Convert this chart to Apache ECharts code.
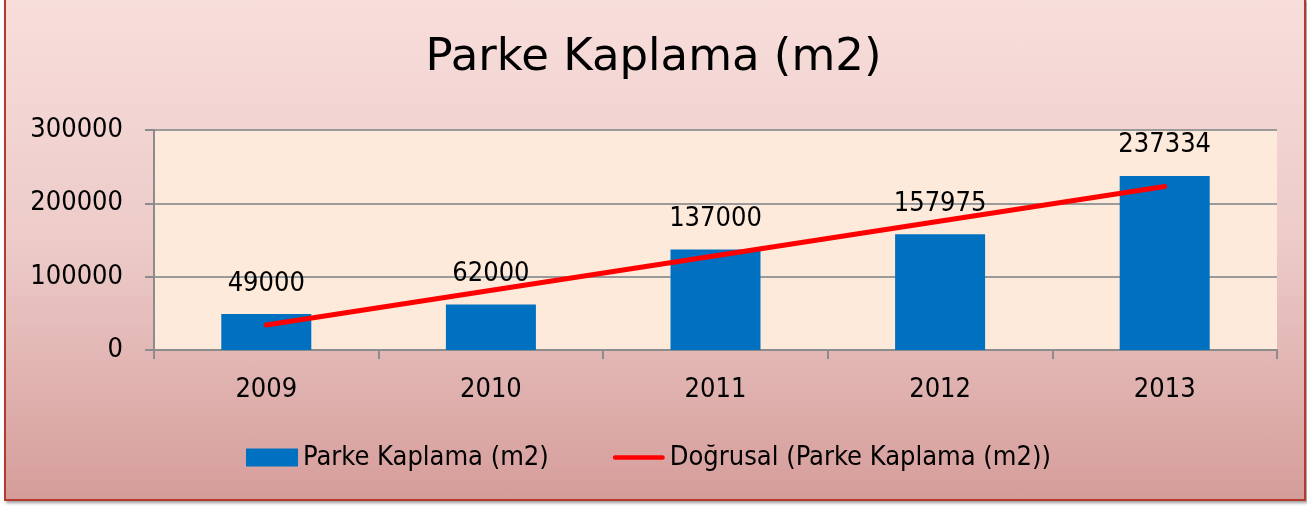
<!DOCTYPE html>
<html>
<head>
<meta charset="utf-8">
<script src="https://cdn.jsdelivr.net/npm/echarts@6/dist/echarts.min.js"></script>
<style>
  html, body { margin: 0; padding: 0; background: #ffffff; }
  #frame {
    position: absolute; left: 4px; top: -2px; width: 1298px; height: 499px;
    border: 2px solid #b23a2e;
    box-shadow: 2px 2px 3px #9a9a9a;
    background: linear-gradient(to bottom, #f8dedb 0%, #eccac8 50%, #d59d9a 100%);
  }
  #chart { position: absolute; left: 0; top: 0; width: 1307px; height: 506px; }
</style>
</head>
<body>
<div id="frame"></div>
<div id="chart"></div>
<script>
// chart data
const years = ['2009', '2010', '2011', '2012', '2013']
const parkeValues = [49000, 62000, 137000, 157975, 237334]
// trend line at its two ends
const trendValues = [34000, null, null, null, 223000]
const yTicks = { min: 0, max: 300000, interval: 100000 }

const fontFamily = '"DejaVu Sans Condensed", "DejaVu Sans", sans-serif'

const chart = echarts.init(document.getElementById('chart'))

chart.setOption({
  backgroundColor: 'transparent',
  animation: false,
  textStyle: { fontFamily: fontFamily },
  title: {
    text: 'Parke Kaplama (m2)',
    left: 'center',
    top: 31,
    textStyle: { fontSize: 45, fontWeight: 'normal', color: '#000', fontFamily: '"DejaVu Sans", sans-serif' }
  },
  legend: {
    left: 241,
    top: 439,
    itemGap: 64,
    itemWidth: 52,
    itemHeight: 18,
    textStyle: { fontSize: 27, color: '#000', fontFamily: fontFamily },
    data: [
      { name: 'Parke Kaplama (m2)', icon: 'rect' },
      { name: 'Doğrusal (Parke Kaplama (m2))', icon: 'path://M2.5,0 L52.5,0 A2.5,2.5 0 0 1 52.5,5 L2.5,5 A2.5,2.5 0 0 1 2.5,0 Z' }
    ]
  },
  grid: {
    left: 154,
    right: 30,
    top: 130,
    bottom: 156,
    show: true,
    backgroundColor: '#fdeadb',
    borderWidth: 0
  },
  xAxis: {
    type: 'category',
    data: years,
    axisLine: { show: true, lineStyle: { color: '#8c8c8c', width: 2 } },
    axisTick: { show: true, alignWithLabel: false, length: 9, lineStyle: { color: '#8c8c8c', width: 2 } },
    axisLabel: { margin: 26, fontSize: 27, color: '#000', fontFamily: fontFamily },
    splitLine: { show: false }
  },
  yAxis: {
    type: 'value',
    min: yTicks.min,
    max: yTicks.max,
    interval: yTicks.interval,
    axisLine: { show: true, lineStyle: { color: '#8c8c8c', width: 2 } },
    axisTick: { show: true, length: 9, lineStyle: { color: '#8c8c8c', width: 2 } },
    axisLabel: {
      margin: 31,
      fontSize: 27,
      color: '#000',
      fontFamily: fontFamily,
      formatter: function (v) { return String(v) }
    },
    splitLine: { show: true, lineStyle: { color: '#9a9a9a', width: 2 } }
  },
  series: [{
    name: 'Parke Kaplama (m2)',
    type: 'bar',
    barWidth: 90,
    data: parkeValues,
    itemStyle: { color: '#0070c0' },
    label: {
      show: true,
      position: 'top',
      distance: 17,
      fontSize: 27,
      color: '#000',
      fontFamily: fontFamily
    }
  }, {
    name: 'Doğrusal (Parke Kaplama (m2))',
    type: 'line',
    data: trendValues,
    connectNulls: true,
    symbol: 'none',
    lineStyle: { color: '#ff0000', width: 5, cap: 'round' },
    itemStyle: { color: '#ff0000' },
    z: 3
  }]
})
</script>
</body>
</html>
